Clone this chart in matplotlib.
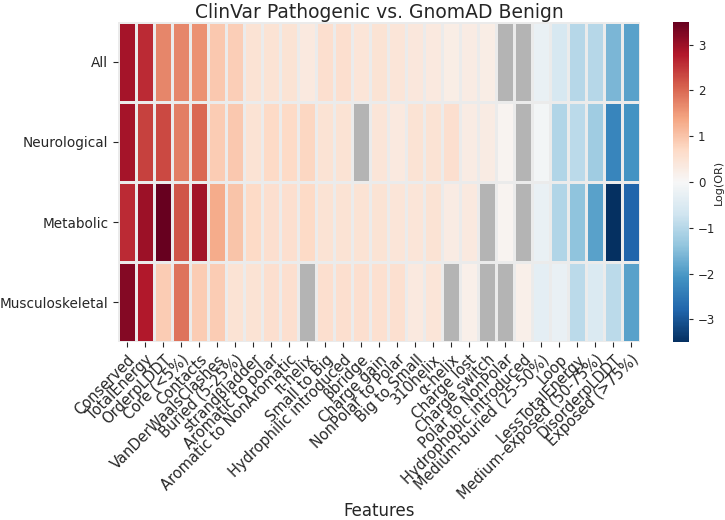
import numpy as np
import matplotlib
matplotlib.use("Agg")
import matplotlib.pyplot as plt

features = ["Conserved", "TotalEnergy", "OrderpLDDT", "Core (<5%)", "Contacts",
            "VanDerWaalsClashes", "Buried (5-25%)", "strandβladder", "Aromatic to polar",
            "Aromatic to NonAromatic", "π-helix", "Small to Big", "Hydrophilic introduced",
            "βbridge", "Charge gain", "NonPolar to Polar", "Big to Small", "310helix",
            "α-helix", "Charge lost", "Charge switch", "Polar to NonPolar",
            "Hydrophobic introduced", "Medium-buried (25-50%)", "Loop", "LessTotalEnergy",
            "Medium-exposed (50-75%)", "DisorderpLDDT", "Exposed (>75%)"]
groups = ["All", "Neurological", "Metabolic", "Musculoskeletal"]

nan = np.nan
all_vals = [2.9, 2.6, 1.7, 1.7, 1.6, 0.95, 0.85, 0.5, 0.5, 0.5, 0.35, 0.6, 0.6, 0.45,
            0.5, 0.45, 0.4, 0.35, 0.25, 0.3, 0.25, nan, nan, -0.25, -0.6, -1.0, -1.0, -1.6, -1.9]
neuro_vals = [2.9, 2.4, 2.3, 1.8, 2.0, 0.9, 0.95, 0.5, 0.7, 0.7, 0.75, 0.5, 0.5, nan,
              0.45, 0.35, 0.5, 0.5, 0.6, 0.3, 0.3, 0.1, nan, -0.1, -1.05, -0.95, -1.25, -2.3, -2.1]
metab_vals = [2.6, 3.0, 3.5, 2.2, 2.95, 1.3, 1.0, 0.7, 0.6, 0.6, 0.7, 0.5, 0.5, 0.5,
              0.5, 0.45, 0.45, 0.5, 0.3, 0.35, nan, 0.1, nan, -0.25, -1.05, -1.4, -1.9, -3.5, -2.8]
musc_vals = [3.2, 2.8, 0.9, 1.9, 0.9, 0.9, 0.5, 0.5, 0.6, 0.6, nan, 0.6, 0.6, 0.6,
             0.55, 0.55, 0.35, 0.45, nan, 0.2, nan, nan, 0.2, -0.35, -0.25, -0.95, -0.5, -0.95, -1.9]

data = np.ma.masked_invalid(np.array([all_vals, neuro_vals, metab_vals, musc_vals]))

txt = "#262626"
plt.rcParams["text.color"] = txt
plt.rcParams["axes.labelcolor"] = txt
plt.rcParams["xtick.color"] = txt
plt.rcParams["ytick.color"] = txt

fig = plt.figure(figsize=(7.25, 5.2), dpi=100)
ax = fig.add_axes([0.163, 0.342, 0.720, 0.616])
cax = fig.add_axes([0.928, 0.342, 0.022, 0.616])

cmap = plt.get_cmap("RdBu_r").copy()
cmap.set_bad("#b4b4b4")
mesh = ax.pcolormesh(data, cmap=cmap, vmin=-3.5, vmax=3.5,
                     edgecolors="#ebebeb", linewidth=0.8)
ax.set_xlim(0, len(features))
ax.set_ylim(len(groups), 0)
ax.set_xticks(np.arange(len(features)) + 0.5)
ax.set_xticklabels(features, rotation=45, ha="right", rotation_mode="anchor", fontsize=10.5)
ax.set_yticks(np.arange(len(groups)) + 0.5)
ax.set_yticklabels(groups, fontsize=9.8)
ax.tick_params(length=3.5, width=0.8, colors=txt)
for s in ax.spines.values():
    s.set_visible(False)
ax.set_xlabel("Features", fontsize=12, labelpad=0)
ax.set_title("ClinVar Pathogenic vs. GnomAD Benign", fontsize=13.5, pad=3)

cb = fig.colorbar(mesh, cax=cax)
cb.outline.set_visible(False)
cb.set_ticks([-3, -2, -1, 0, 1, 2, 3])
cb.ax.tick_params(labelsize=8.5, length=3, width=0.8)
cb.set_label("Log(OR)", fontsize=8)
cb.ax.yaxis.set_label_coords(2.6, 0.5)

fig.savefig("out.png", dpi=100)
